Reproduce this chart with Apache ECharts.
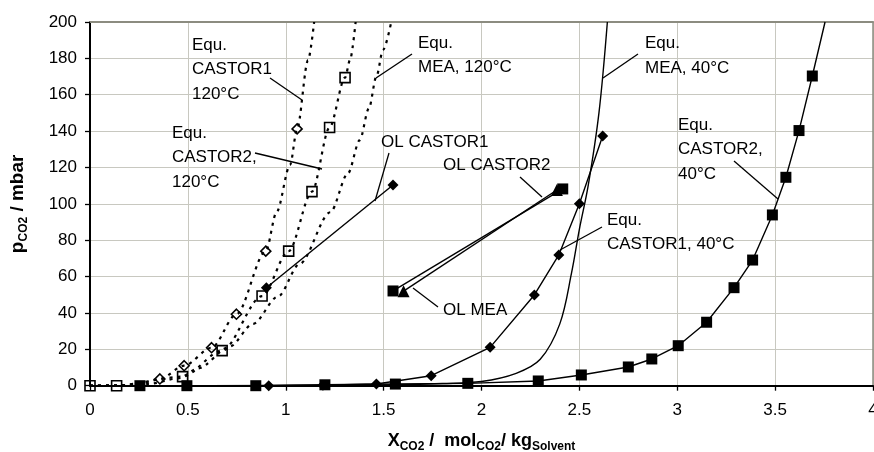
<!DOCTYPE html>
<html><head><meta charset="utf-8">
<script src="https://cdn.jsdelivr.net/npm/echarts@6/dist/echarts.min.js"></script>
<style>html,body{margin:0;padding:0;background:#fff}#c{width:874px;height:452px}</style>
</head><body><div id="c"></div>
<script>
// ---------- DATA ----------
// Equ. CASTOR1, 120°C  (open diamonds, dotted)
const castor1_120_x = [0.357, 0.481, 0.621, 0.748, 0.898, 1.058];
const castor1_120_p = [3.7, 11.0, 20.9, 39.3, 74.0, 141.2];
const castor1_120_curveX = [0, 0.136, 0.25, 0.954, 1.022, 1.114, 1.145];
const castor1_120_curveP = [0, 0, 1.2, 95.7, 121.4, 179, 200];

// Equ. CASTOR2, 120°C  (open squares, dotted)
const castor2_120_x = [0, 0.136, 0.473, 0.675, 0.879, 1.015, 1.134, 1.224, 1.303];
const castor2_120_p = [0, 0, 5.0, 19.3, 49.3, 74.0, 106.7, 142.0, 169.4];
const castor2_120_curveX = [1.328, 1.357];
const castor2_120_curveP = [179, 200];

// Equ. MEA, 120°C  (dotted curve, no markers)
const mea_120_x = [0, 0.2, 0.3, 0.45, 0.553, 0.714, 0.833, 0.96, 1.071, 1.228, 1.318, 1.378, 1.425, 1.463, 1.497, 1.539];
const mea_120_p = [0, 0.3, 1.0, 4.0, 9.5, 21.5, 34.0, 49.0, 67.0, 95.4, 116.8, 135.0, 152.6, 170.0, 184.6, 200];

// Equ. MEA, 40°C  (solid curve, no markers)
const mea_40_x = [0, 1.0, 1.5, 1.8, 2.0, 2.177, 2.3, 2.4, 2.46, 2.5, 2.545, 2.6, 2.643];
const mea_40_p = [0, 0.1, 0.4, 1.2, 2.3, 6.8, 14.5, 34.0, 62.0, 86.0, 110.0, 150.0, 200];

// Equ. CASTOR1, 40°C  (filled diamonds, solid)
const castor1_40_x = [0.913, 1.19, 1.463, 1.743, 2.044, 2.27, 2.395, 2.5, 2.619];
const castor1_40_p = [0, 0.3, 0.9, 5.5, 21.1, 49.9, 71.9, 100.0, 137.3];

// Equ. CASTOR2, 40°C  (filled squares, solid)
const castor2_40_x = [0.255, 0.495, 0.847, 1.2, 1.56, 1.93, 2.29, 2.51, 2.75, 2.87, 3.005, 3.15, 3.29, 3.385, 3.486, 3.555, 3.622, 3.69];
const castor2_40_p = [0, 0, 0, 0.5, 0.9, 1.3, 2.6, 5.9, 10.3, 14.7, 22.0, 34.9, 53.9, 69.1, 93.9, 114.6, 140.3, 170.3];
const castor2_40_curveX = [3.755];
const castor2_40_curveP = [200];

// Operating lines
const ol_castor1_x = [0.901, 1.548];
const ol_castor1_p = [53.9, 110.4];
const ol_castor2_x = [1.548, 2.415];
const ol_castor2_p = [52.1, 108.2];
const ol_mea_x = [1.602, 2.385];
const ol_mea_p = [52.0, 107.6];

// Axis ticks
const xMin = 0, xMax = 4, xStep = 0.5;
const yMin = 0, yMax = 200, yStep = 20;

// ---------- ANNOTATIONS (pixel layout) ----------
const annTexts = [
  {t:'Equ.\nCASTOR1\n120°C', x:192, y:45},
  {t:'Equ.\nCASTOR2,\n120°C', x:172, y:133},
  {t:'Equ.\nMEA, 120°C', x:418, y:43},
  {t:'OL CASTOR1', x:381, y:142},
  {t:'OL CASTOR2', x:443, y:165},
  {t:'OL MEA', x:443, y:310},
  {t:'Equ.\nMEA, 40°C', x:645, y:43.5},
  {t:'Equ.\nCASTOR2,\n40°C', x:678, y:125},
  {t:'Equ.\nCASTOR1, 40°C', x:607, y:220}
];
const annLines = [
  [270,78,302,100],[255,153,322,169],[412,54,376,78],[389,153,375,201],
  [520,177,542,197],[438,307,413,288],[638,54,603,78],[734,161,778,199],[602,227,560,250]
];

// ---------- BUILD ----------
const FONT = '"Liberation Sans", Arial, sans-serif';
function build(mx, mp, cx, cp) {
  const pts = [];
  mx.forEach((x,i)=>pts.push({value:[x, mp[i]]}));
  (cx||[]).forEach((x,i)=>pts.push({value:[x, cp[i]], symbol:'none'}));
  pts.sort((a,b)=>a.value[0]-b.value[0]);
  return pts;
}
const dotted = {color:'#000', width:2.2, type:[3,5], cap:'butt'};
const solid = {color:'#000', width:1.4};
const openStyle = {color:'rgba(255,255,255,0)', borderColor:'#000', borderWidth:1.6};
const fillStyle = {color:'#000', borderColor:'#000', borderWidth:0};

const series = [
  {name:'MEA120', type:'line', data:build(mea_120_x, mea_120_p), symbol:'none', smooth:0.3, smoothMonotone:'x', lineStyle:dotted, z:2},
  {name:'C1_120', type:'line', data:build(castor1_120_x, castor1_120_p, castor1_120_curveX, castor1_120_curveP), symbol:'diamond', symbolSize:10, smooth:0.3, smoothMonotone:'x', lineStyle:dotted, itemStyle:openStyle, z:3},
  {name:'C2_120', type:'line', data:build(castor2_120_x, castor2_120_p, castor2_120_curveX, castor2_120_curveP), symbol:'rect', symbolSize:10, smooth:0.3, smoothMonotone:'x', lineStyle:dotted, itemStyle:openStyle, z:3},
  {name:'MEA40', type:'line', data:build(mea_40_x, mea_40_p), symbol:'none', smooth:0.35, lineStyle:solid, z:2},
  {name:'C1_40', type:'line', data:build(castor1_40_x, castor1_40_p), symbol:'diamond', symbolSize:11, lineStyle:solid, itemStyle:fillStyle, z:4},
  {name:'C2_40', type:'line', data:build(castor2_40_x, castor2_40_p, castor2_40_curveX, castor2_40_curveP), symbol:'rect', symbolSize:11, lineStyle:solid, itemStyle:fillStyle, z:5},
  {name:'OL_C1', type:'line', data:build(ol_castor1_x, ol_castor1_p), symbol:'diamond', symbolSize:11, lineStyle:solid, itemStyle:fillStyle, z:4},
  {name:'OL_MEA', type:'line', data:build(ol_mea_x, ol_mea_p), symbol:'triangle', symbolSize:12, lineStyle:solid, itemStyle:fillStyle, z:4},
  {name:'OL_C2', type:'line', data:build(ol_castor2_x, ol_castor2_p), symbol:'rect', symbolSize:11, lineStyle:solid, itemStyle:fillStyle, z:5}
];
series.forEach(s=>{s.animation=false; s.silent=true; s.clip=true;});

const graphic = [];
annLines.forEach(l=>graphic.push({type:'line', shape:{x1:l[0],y1:l[1],x2:l[2],y2:l[3]}, style:{stroke:'#000', lineWidth:1.3}, z:10}));
annTexts.forEach(a=>graphic.push({type:'text', x:a.x, y:a.y-12.35, style:{text:a.t, fontFamily:FONT, fontSize:17, lineHeight:24.7, fill:'#000', verticalAlign:'top', align:'left'}, z:11}));

const chart = echarts.init(document.getElementById('c'), null, {renderer:'canvas'});
chart.setOption({
  animation:false,
  backgroundColor:'#fff',
  grid:{left:90, right:1, top:22, bottom:66.3, show:false, outerBoundsMode:'none', containLabel:false},
  xAxis:[{
    type:'value', min:xMin, max:xMax, interval:xStep,
    axisLine:{show:true, onZero:false, lineStyle:{color:'#000', width:2}},
    axisTick:{show:true, length:5, lineStyle:{color:'#000', width:1.3}},
    axisLabel:{color:'#000', fontSize:17, fontFamily:FONT, margin:16, showMaxLabel:true, showMinLabel:true},
    splitLine:{show:true, lineStyle:{color:'#c8c8c0', width:1}},
    name:'{b|X}{s|CO2}{b| /  mol}{s|CO2}{b|/ kg}{s|Solvent}',
    nameLocation:'middle', nameGap:43, nameMoveOverlap:false,
    nameTextStyle:{fontFamily:FONT, color:'#000', rich:{
      b:{fontSize:18, fontWeight:'bold', fontFamily:FONT, color:'#000'},
      s:{fontSize:12, fontWeight:'bold', fontFamily:FONT, color:'#000', padding:[12,0,0,0]}
    }}
  },{
    type:'value', position:'top', min:xMin, max:xMax, interval:xStep,
    axisLine:{show:true, onZero:false, lineStyle:{color:'#8c8c80', width:2}},
    axisTick:{show:false}, axisLabel:{show:false}, splitLine:{show:false}
  }],
  yAxis:[{
    type:'value', min:yMin, max:yMax, interval:yStep,
    axisLine:{show:true, onZero:false, lineStyle:{color:'#000', width:2}},
    axisTick:{show:true, length:5, lineStyle:{color:'#000', width:1.3}},
    axisLabel:{color:'#000', fontSize:17, fontFamily:FONT, margin:13},
    splitLine:{show:true, lineStyle:{color:'#c8c8c0', width:1}},
    name:'{b|p}{s|CO2}{b| / mbar}',
    nameLocation:'middle', nameRotate:90, nameGap:60, nameMoveOverlap:false,
    nameTextStyle:{fontFamily:FONT, color:'#000', rich:{
      b:{fontSize:19, fontWeight:'bold', fontFamily:FONT, color:'#000'},
      s:{fontSize:12, fontWeight:'bold', fontFamily:FONT, color:'#000', padding:[12,0,0,0]}
    }}
  },{
    type:'value', position:'right', min:yMin, max:yMax, interval:yStep,
    axisLine:{show:true, onZero:false, lineStyle:{color:'#8c8c80', width:1.5}},
    axisTick:{show:false}, axisLabel:{show:false}, splitLine:{show:false}
  }],
  series: series,
  graphic: graphic
});
</script>
</body></html>
